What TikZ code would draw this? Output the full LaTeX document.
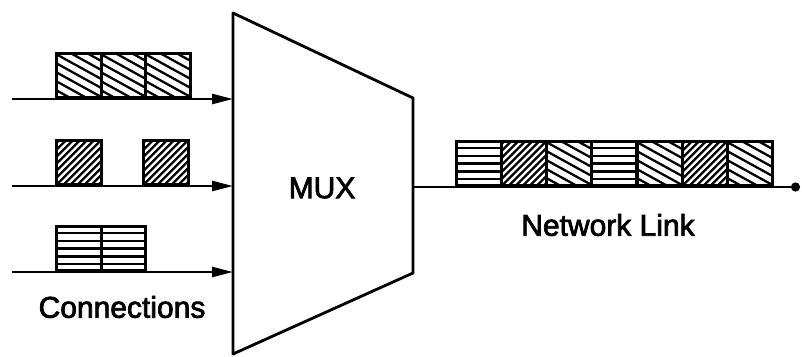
\documentclass[tikz,border=0pt]{standalone}
\usepackage{fontspec}
\setmainfont{Liberation Sans}
\newfontfamily\labfont{Liberation Sans}[FakeBold=2.5]
\usetikzlibrary{arrows.meta}
\tikzset{
  hl/.style={line width=2.3pt},
  cell/.style={draw, line width=2.8pt, minimum width=44.7pt, minimum height=44pt, inner sep=0pt, anchor=south west},
  hatchA/.style={cell, path picture={
    \foreach \k in {-6,...,6}{\draw[hl] ([shift={(-30pt,16.5pt+\k*9pt)}]path picture bounding box.center) -- ++(60pt,-33pt);}}},
  hatchB/.style={cell, path picture={
    \foreach \k in {-8,...,8}{\draw[hl] ([shift={(\k*7pt-30pt,-30pt)}]path picture bounding box.center) -- ++(60pt,60pt);}}},
  hatchH/.style={cell, path picture={
    \foreach \k in {-2,...,2}{\draw[hl] ([shift={(-30pt,\k*7.8pt)}]path picture bounding box.center) -- ++(60pt,0pt);}}},
  conn/.style={line width=2.6pt, -{Triangle[length=21pt,width=10pt]}},
  link/.style={line width=2.6pt, -{Circle[length=9pt]}},
  lab/.style={font=\labfont\fontsize{30}{35}\selectfont, inner sep=0pt},
  mux/.style={line width=2.8pt, line join=round}
}
\begin{document}
\begin{tikzpicture}[x=1pt,y=-1pt]
\useasboundingbox (0,0) rectangle (802,356);
% MUX trapezoid
\coordinate (m1) at (233,13);
\coordinate (m2) at (413,98);
\coordinate (m3) at (413,273);
\coordinate (m4) at (233,354);
\draw[mux] (m1) -- (m2) -- (m3) -- (m4) -- cycle;
\node[lab] (muxlabel) at (322,188) {MUX};
% inputs
\coordinate (s1) at (12,99);
\coordinate (e1) at (233,99);
\coordinate (s2) at (12,186);
\coordinate (e2) at (233,186);
\coordinate (s3) at (12,272);
\coordinate (e3) at (233,272);
% cells row 1
\node[hatchA] (a1) at (55,99) {};
\node[hatchA] (a2) at (99.7,99) {};
\node[hatchA] (a3) at (144.4,99) {};
% row 2
\node[hatchB] (b1) at (55,186) {};
\node[hatchB] (b2) at (142,186) {};
% row 3
\node[hatchH] (c1) at (55,272) {};
\node[hatchH] (c2) at (99.7,272) {};
\draw[conn] (s1) -- (e1);
\draw[conn] (s2) -- (e2);
\draw[conn] (s3) -- (e3);
\node[lab] (conlabel) at (122,307) {Connections};
% output link
\coordinate (o1) at (413,187);
\coordinate (o2) at (800,187);
\node[hatchH] (n1) at (455,187) {};
\node[hatchB] (n2) at (500.2,187) {};
\node[hatchA] (n3) at (545.4,187) {};
\node[hatchH] (n4) at (590.6,187) {};
\node[hatchA] (n5) at (635.8,187) {};
\node[hatchB] (n6) at (681,187) {};
\node[hatchA] (n7) at (726.2,187) {};
\draw[link] (o1) -- (o2);
\node[lab] (netlabel) at (608,225) {Network Link};
\end{tikzpicture}
\end{document}
